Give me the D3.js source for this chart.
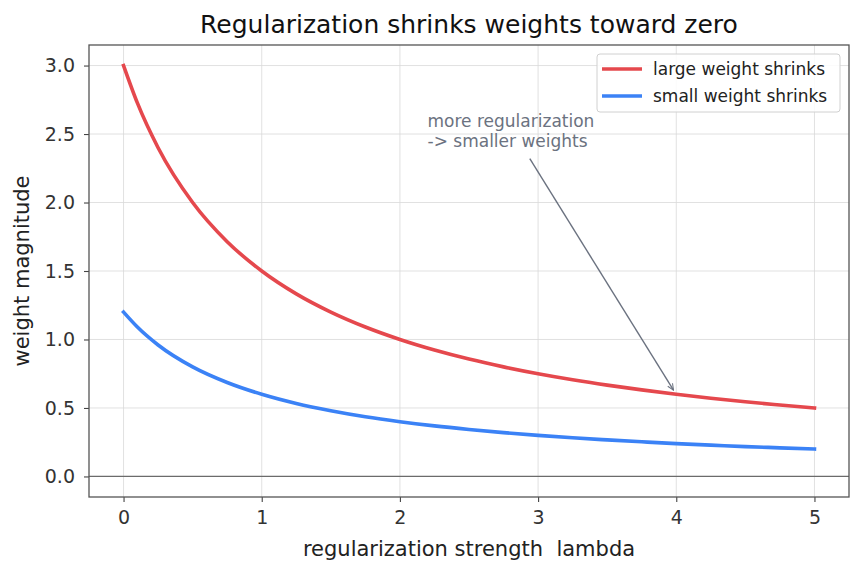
<!DOCTYPE html>
<meta charset="utf-8">
<script src="https://d3js.org/d3.v7.min.js"></script>
<style>
  body { margin: 0; background: #fff; }
  text { font-family: "DejaVu Sans", sans-serif; }
</style>
<div id="viz"></div>
<script>
// lambda values and weights
var lambdas     = [0, 0.1, 0.25, 0.5, 0.75, 1, 1.25, 1.5, 1.75, 2, 2.25, 2.5, 2.75, 3, 3.25, 3.5, 3.75, 4, 4.25, 4.5, 4.75, 5];
var largeWeight = [3.0, 2.727, 2.4, 2.0, 1.714, 1.5, 1.333, 1.2, 1.091, 1.0, 0.923, 0.857, 0.8, 0.75, 0.706, 0.667, 0.632, 0.6, 0.571, 0.545, 0.522, 0.5];
var smallWeight = [1.2, 1.091, 0.96, 0.8, 0.686, 0.6, 0.533, 0.48, 0.436, 0.4, 0.369, 0.343, 0.32, 0.3, 0.282, 0.267, 0.253, 0.24, 0.229, 0.218, 0.209, 0.2];
var seriesNames = ["large weight shrinks", "small weight shrinks"];
var seriesColors = ["#e5484d", "#3b82f6"];
var xTicks = [0, 1, 2, 3, 4, 5];
var yTicks = [0, 0.5, 1, 1.5, 2, 2.5, 3];

var W = 862, H = 573;
var margin = {top: 45, right: 13, bottom: 76, left: 89};
var width = W - margin.left - margin.right,
    height = H - margin.top - margin.bottom;

var svg = d3.select("#viz").append("svg")
    .attr("width", W).attr("height", H);
var g = svg.append("g")
    .attr("transform", "translate(" + margin.left + "," + margin.top + ")");

var x = d3.scaleLinear().domain([-0.25, 5.25]).range([0, width]);
var y = d3.scaleLinear().domain([-0.15, 3.15]).range([height, 0]);

// grid
g.append("g").selectAll("line").data(xTicks).enter().append("line")
  .attr("x1", d => x(d)).attr("x2", d => x(d))
  .attr("y1", 0).attr("y2", height)
  .attr("stroke", "#d9d9d9").attr("stroke-width", 0.8);
g.append("g").selectAll("line").data(yTicks).enter().append("line")
  .attr("y1", d => y(d)).attr("y2", d => y(d))
  .attr("x1", 0).attr("x2", width)
  .attr("stroke", "#d9d9d9").attr("stroke-width", 0.8);

// zero line
g.append("line")
  .attr("x1", 0).attr("x2", width)
  .attr("y1", y(0)).attr("y2", y(0))
  .attr("stroke", "#6b6b6b").attr("stroke-width", 1.2);

// axes
var xAxis = g.append("g").attr("transform", "translate(0," + height + ")")
  .call(d3.axisBottom(x).tickValues(xTicks).tickFormat(d3.format("d")).tickSize(5).tickPadding(9));
var yAxis = g.append("g")
  .call(d3.axisLeft(y).tickValues(yTicks).tickFormat(d3.format(".1f")).tickSize(5).tickPadding(9));
[xAxis, yAxis].forEach(function(a) {
  a.select(".domain").remove();
  a.selectAll(".tick line").attr("stroke", "#444").attr("stroke-width", 1.1);
  a.selectAll(".tick text").attr("fill", "#333").style("font-size", "19px")
    .style("font-family", "DejaVu Sans");
});

// lines
var series = [largeWeight, smallWeight];
var line = d3.line()
  .x((d, i) => x(lambdas[i]))
  .y(d => y(d))
  .curve(d3.curveMonotoneX);
g.selectAll(".curve").data(series).enter().append("path")
  .attr("class", "curve")
  .attr("d", d => line(d))
  .attr("fill", "none")
  .attr("stroke", (d, i) => seriesColors[i])
  .attr("stroke-width", 3.6)
  .attr("stroke-linecap", "square");

// annotation
var annColor = "#6b7280";
svg.append("defs").append("marker")
  .attr("id", "arrow").attr("viewBox", "0 0 10 10")
  .attr("refX", 9).attr("refY", 5)
  .attr("markerWidth", 8).attr("markerHeight", 8)
  .attr("markerUnits", "userSpaceOnUse")
  .attr("orient", "auto")
  .append("path").attr("d", "M1,1.5 L9,5 L1,8.5")
  .attr("fill", "none").attr("stroke", annColor).attr("stroke-width", 1.3);
g.append("line")
  .attr("x1", x(2.94)).attr("y1", y(2.32))
  .attr("x2", x(3.98)).attr("y2", y(0.63))
  .attr("stroke", annColor).attr("stroke-width", 1.4)
  .attr("marker-end", "url(#arrow)");
var ann = g.append("text")
  .attr("x", x(2.2)).attr("y", y(2.55))
  .attr("fill", annColor).style("font-size", "17px");
ann.append("tspan").attr("x", x(2.2)).text("more regularization");
ann.append("tspan").attr("x", x(2.2)).attr("dy", 20).text("-> smaller weights");

// frame
g.append("rect").attr("width", width).attr("height", height)
  .attr("fill", "none").attr("stroke", "#555").attr("stroke-width", 1.3);

// legend
var leg = g.append("g").attr("transform", "translate(" + (width - 252) + ",9)");
leg.append("rect").attr("width", 243).attr("height", 58).attr("rx", 3)
  .attr("fill", "#fff").attr("fill-opacity", 0.85)
  .attr("stroke", "#d0d0d0");
seriesNames.forEach(function(n, i) {
  leg.append("line").attr("x1", 5).attr("x2", 45)
    .attr("y1", 15 + i * 27).attr("y2", 15 + i * 27)
    .attr("stroke", seriesColors[i]).attr("stroke-width", 3.6);
  leg.append("text").attr("x", 56).attr("y", 21 + i * 27)
    .attr("fill", "#222").style("font-size", "17px").text(n);
});

// title and labels
svg.append("text").attr("x", margin.left + width / 2).attr("y", 33)
  .attr("text-anchor", "middle").attr("fill", "#111")
  .style("font-size", "25px").text("Regularization shrinks weights toward zero");
svg.append("text").attr("x", margin.left + width / 2).attr("y", 556)
  .attr("text-anchor", "middle").attr("fill", "#222")
  .style("font-size", "21px").style("white-space", "pre")
  .text("regularization strength  lambda");
svg.append("text")
  .attr("transform", "translate(29," + (margin.top + height / 2) + ") rotate(-90)")
  .attr("text-anchor", "middle").attr("fill", "#222")
  .style("font-size", "21px").text("weight magnitude");
</script>
